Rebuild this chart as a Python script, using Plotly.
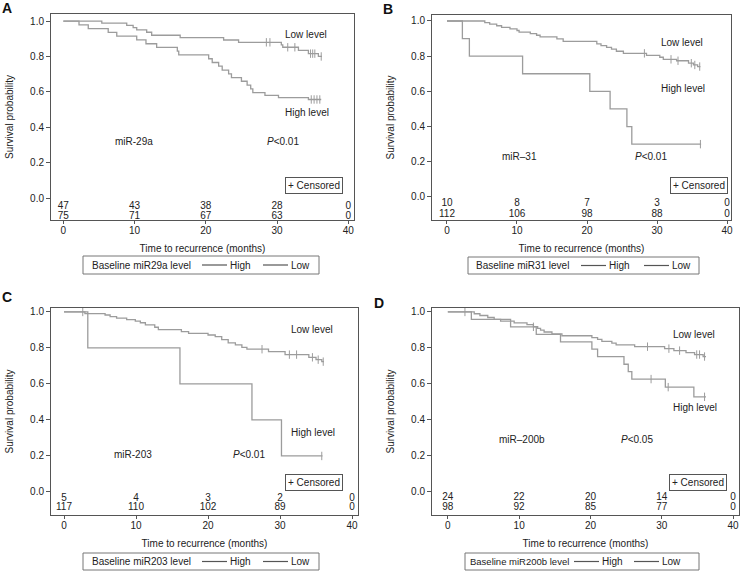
import plotly.graph_objects as go

# ---------------- data ----------------
tick_months = [0, 10, 20, 30, 40]
ytick_vals = [0.0, 0.2, 0.4, 0.6, 0.8, 1.0]

# Panel A: miR-29a
A_high_t = [0, 2.2, 3.5, 6.3, 7.5, 10.3, 11.6, 13.1, 16.0, 16.2, 20.4, 20.9, 21.8, 22.3, 23.2, 23.6, 25.0, 25.8, 26.3, 26.6, 28.3, 30.2, 34.4]
A_high_s = [1.0, .979, .957, .936, .915, .894, .872, .851, .830, .809, .787, .766, .745, .723, .702, .681, .660, .638, .617, .596, .580, .568, .557]
A_high_end = 36.2
A_high_cens = [34.8, 35.2, 35.6, 36.0]
A_low_t = [0, 5.4, 8.9, 9.8, 10.3, 11.7, 12.4, 16.4, 22.5, 24.6, 30.6, 30.8, 33.0, 34.4, 35.8]
A_low_s = [1.0, .988, .976, .963, .950, .937, .920, .907, .893, .880, .866, .852, .834, .816, .800]
A_low_end = 36.3
A_low_cens = [28.5, 29.0, 31.5, 32.5, 34.7, 35.0, 35.3, 36.2]
A_risk_high = [47, 43, 38, 28, 0]
A_risk_low = [75, 71, 67, 63, 0]

# Panel B: miR-31
B_high_t = [0, 2.2, 3.2, 10.8, 20.4, 23.3, 25.7, 26.4]
B_high_s = [1.0, 0.9, 0.8, 0.7, 0.6, 0.5, 0.4, 0.3]
B_high_end = 36.3
B_high_cens = [36.2]
B_low_t = [0, 5.4, 6.1, 7.1, 7.8, 9.0, 10.0, 10.3, 11.9, 12.8, 13.3, 15.7, 16.6, 21.4, 22.0, 22.8, 23.5, 24.2, 25.2, 28.5, 30.4, 30.9, 32.8, 34.5, 35.2, 35.8]
B_low_s = [1.0, .991, .982, .973, .964, .955, .946, .937, .928, .919, .910, .898, .884, .870, .860, .850, .840, .828, .816, .805, .794, .782, .774, .760, .750, .741]
B_low_end = 36.2
B_low_cens = [28.2, 32.0, 33.0, 34.9, 35.4, 36.1]
B_risk_high = [10, 8, 7, 3, 0]
B_risk_low = [112, 106, 98, 88, 0]

# Panel C: miR-203
C_high_t = [0, 3.3, 16.1, 26.1, 30.2]
C_high_s = [1.0, 0.8, 0.6, 0.4, 0.2]
C_high_end = 35.9
C_high_cens = [35.8]
C_low_t = [0, 2.9, 5.7, 6.4, 7.3, 8.7, 9.9, 10.6, 11.3, 12.6, 13.1, 16.3, 17.3, 20.0, 21.0, 21.9, 22.8, 23.8, 24.7, 25.4, 28.4, 30.7, 34.0, 35.0, 35.8]
C_low_s = [1.0, .991, .983, .974, .966, .957, .949, .940, .928, .915, .902, .891, .881, .872, .863, .846, .828, .817, .803, .793, .780, .763, .748, .735, .724]
C_low_end = 36.1
C_low_cens = [2.6, 27.5, 31.3, 32.3, 34.5, 35.3, 36.0]
C_risk_high = [5, 4, 3, 2, 0]
C_risk_low = [117, 110, 102, 89, 0]

# Panel D: miR-200b
D_high_t = [0, 3.3, 8.8, 12.4, 15.8, 20.2, 21.0, 24.7, 25.3, 25.8, 30.5, 34.5]
D_high_s = [1.0, .958, .917, .875, .833, .792, .750, .708, .667, .625, .580, .526]
D_high_end = 36.2
D_high_cens = [12.0, 28.5, 30.9, 36.0]
D_low_t = [0, 3.7, 4.5, 5.6, 6.5, 7.4, 9.3, 11.1, 12.0, 12.6, 13.0, 13.5, 14.6, 16.0, 20.2, 21.0, 21.6, 23.0, 23.6, 26.2, 30.4, 31.7, 33.4, 34.6, 35.8]
D_low_s = [1.0, .990, .980, .969, .959, .949, .939, .929, .918, .908, .898, .888, .878, .867, .857, .847, .836, .826, .816, .806, .795, .784, .773, .762, .751]
D_low_end = 36.2
D_low_cens = [2.4, 28.0, 31.0, 32.5, 34.9, 35.3, 36.0]
D_risk_high = [24, 22, 20, 14, 0]
D_risk_low = [98, 92, 85, 77, 0]

panel_letters = ["A", "B", "C", "D"]
mir_labels = ["miR-29a", "miR\u201331", "miR-203", "miR\u2013200b"]
p_labels = ["<i>P</i>&lt;0.01", "<i>P</i>&lt;0.01", "<i>P</i>&lt;0.01", "<i>P</i>&lt;0.05"]
legend_titles = ["Baseline miR29a level", "Baseline miR31 level", "Baseline miR203 level", "Baseline miR200b level"]
legend_names = ["High", "Low"]

# ---------------- layout geometry ----------------
W, H = 742, 572
boxes = [(51, 14, 354, 220), (432, 15, 731, 220), (51, 308, 358, 515), (432, 308, 739, 515)]
xranges = [[-1.73, 40.8], [-2.14, 40.57], [-1.81, 40.83], [-2.22, 40.83]]
yranges = [[-0.124, 1.04], [-0.131, 1.034], [-0.128, 1.022], [-0.134, 1.022]]
letter_pos = [(0, -2), (381, -1), (0, 287), (372, 293)]
# legend boxes: left, top, right, bottom (px); title x, first and second line-sample x
legend_boxes = [(83, 256, 319, 274), (468, 257, 699, 274), (83, 553, 319, 570), (465, 553, 699, 570)]
legend_title_x = [90, 474, 90, 468]
legend_title_size = [10, 10, 10, 9.5]
legend_seg_x = [(202, 263), (581, 644), (202, 263), (574, 634)]
lowlbl = [(30.8, 0.927), (30.3, 0.879), (31.2, 0.904), (31.25, 0.875)]
highlbl = [(30.8, 0.486), (30.3, 0.617), (31.2, 0.33), (31.25, 0.466)]
mirpos = [(9.9, 0.322), (10.3, 0.228), (9.6, 0.209), (10.4, 0.289)]
ppos = [(30.9, 0.322), (29.2, 0.228), (25.7, 0.209), (26.5, 0.289)]
cens_box = [(39.2, 0.07), (40.2, 0.064), (38.8, 0.055), (39.1, 0.05)]
risk_rows = [(-0.049, -0.107), (-0.038, -0.098), (-0.039, -0.089), (-0.035, -0.091)]
risk_lbl_x = [-3.37, -3.48, -3.1, -3.47]

panels = [
    (A_high_t, A_high_s, A_high_end, A_high_cens, A_low_t, A_low_s, A_low_end, A_low_cens, A_risk_high, A_risk_low),
    (B_high_t, B_high_s, B_high_end, B_high_cens, B_low_t, B_low_s, B_low_end, B_low_cens, B_risk_high, B_risk_low),
    (C_high_t, C_high_s, C_high_end, C_high_cens, C_low_t, C_low_s, C_low_end, C_low_cens, C_risk_high, C_risk_low),
    (D_high_t, D_high_s, D_high_end, D_high_cens, D_low_t, D_low_s, D_low_end, D_low_cens, D_risk_high, D_risk_low),
]

FONT = "Liberation Sans, Arial, sans-serif"
TXT = "#222222"
CURVE = "#9c9c9c"
BOX = "#555555"


def surv_at(ts, ss, time):
    val = ss[0]
    for t, s in zip(ts, ss):
        if t <= time:
            val = s
    return val


def px_x(v):
    return v / W


def px_y(v):
    return 1 - v / H


fig = go.Figure()
layout = dict(
    width=W, height=H, margin=dict(l=0, r=0, t=0, b=0, autoexpand=False),
    paper_bgcolor="white", plot_bgcolor="white", showlegend=False,
    font=dict(family=FONT, size=10, color=TXT),
)
annotations = []
shapes = []

for i, (ht, hs, hend, hc, lt, ls, lend, lc, rh, rl) in enumerate(panels):
    n = i + 1
    xa = "x" if n == 1 else f"x{n}"
    ya = "y" if n == 1 else f"y{n}"
    x0, y0, x1, y1 = boxes[i]
    layout["xaxis" if n == 1 else f"xaxis{n}"] = dict(
        domain=[x0 / W, x1 / W], range=xranges[i], anchor=ya, automargin=False,
        showgrid=False, zeroline=False, showline=True, mirror=True,
        linecolor=BOX, linewidth=1, ticks="outside", ticklen=3, tickcolor=BOX,
        tickvals=tick_months, tickfont=dict(size=10, color=TXT), ticklabelstandoff=-2,
        title=dict(text="Time to recurrence (months)", font=dict(size=10, color=TXT), standoff=9),
    )
    layout["yaxis" if n == 1 else f"yaxis{n}"] = dict(
        domain=[1 - y1 / H, 1 - y0 / H], range=yranges[i], anchor=xa, automargin=False,
        showgrid=False, zeroline=False, showline=True, mirror=True,
        linecolor=BOX, linewidth=1, ticks="outside", ticklen=4, tickcolor=BOX,
        tickvals=ytick_vals, tickformat=".1f", tickfont=dict(size=10, color=TXT),
        title=dict(text="Survival probability", font=dict(size=10, color=TXT), standoff=14),
    )

    for name, ts, ss, end, cens in (("High", ht, hs, hend, hc), ("Low", lt, ls, lend, lc)):
        fig.add_trace(go.Scatter(
            x=list(ts) + [end], y=list(ss) + [ss[-1]], mode="lines",
            line=dict(color=CURVE, width=1.3, shape="hv"), name=name,
            xaxis=xa, yaxis=ya, hoverinfo="skip",
        ))
        fig.add_trace(go.Scatter(
            x=cens, y=[surv_at(ts, ss, c) for c in cens], mode="markers",
            marker=dict(symbol="line-ns-open", size=6, color=CURVE, line=dict(color=CURVE, width=1)),
            xaxis=xa, yaxis=ya, hoverinfo="skip", name=name + " censored",
        ))

    # number at risk rows
    yh, yl = risk_rows[i]
    for vals, yy in ((rh, yh), (rl, yl)):
        fig.add_trace(go.Scatter(
            x=tick_months, y=[yy] * len(tick_months), mode="text", text=[str(v) for v in vals],
            textfont=dict(size=10, color=TXT), xaxis=xa, yaxis=ya,
            cliponaxis=False, hoverinfo="skip",
        ))
    for lab, yy in (("High", yh), ("Low", yl)):
        annotations.append(dict(text=lab, x=risk_lbl_x[i], y=yy, xref=xa, yref=ya,
                                xanchor="right", yanchor="middle", showarrow=False,
                                font=dict(size=10, color=TXT)))

    annotations.append(dict(text="Low level", x=lowlbl[i][0], y=lowlbl[i][1], xref=xa, yref=ya,
                            xanchor="left", yanchor="middle", showarrow=False, font=dict(size=10)))
    annotations.append(dict(text="High level", x=highlbl[i][0], y=highlbl[i][1], xref=xa, yref=ya,
                            xanchor="left", yanchor="middle", showarrow=False, font=dict(size=10)))
    annotations.append(dict(text=mir_labels[i], x=mirpos[i][0], y=mirpos[i][1], xref=xa, yref=ya,
                            xanchor="center", yanchor="middle", showarrow=False, font=dict(size=10)))
    annotations.append(dict(text=p_labels[i], x=ppos[i][0], y=ppos[i][1], xref=xa, yref=ya,
                            xanchor="center", yanchor="middle", showarrow=False, font=dict(size=10)))
    annotations.append(dict(text="+ Censored", x=cens_box[i][0], y=cens_box[i][1], xref=xa, yref=ya,
                            xanchor="right", yanchor="middle", showarrow=False, font=dict(size=10),
                            bordercolor="#555555", borderwidth=1, borderpad=2, bgcolor="white"))
    px, py = letter_pos[i]
    annotations.append(dict(text="<b>" + panel_letters[i] + "</b>", x=px_x(px), y=px_y(py),
                            xref="paper", yref="paper", xanchor="left", yanchor="top",
                            showarrow=False, font=dict(size=14, color="#111111")))

    # legend box (drawn by hand so title and items sit on one row)
    bl, bt, br, bb = legend_boxes[i]
    cy = (bt + bb) / 2
    shapes.append(dict(type="rect", xref="paper", yref="paper", x0=px_x(bl), x1=px_x(br),
                       y0=px_y(bb), y1=px_y(bt), line=dict(color="#777777", width=1)))
    annotations.append(dict(text=legend_titles[i], x=px_x(legend_title_x[i]), y=px_y(cy),
                            xref="paper", yref="paper", xanchor="left", yanchor="middle",
                            showarrow=False, font=dict(size=legend_title_size[i])))
    for nm, sx in zip(legend_names, legend_seg_x[i]):
        shapes.append(dict(type="line", xref="paper", yref="paper", x0=px_x(sx), x1=px_x(sx + 25),
                           y0=px_y(cy), y1=px_y(cy), line=dict(color="#555555", width=1.2)))
        annotations.append(dict(text=nm, x=px_x(sx + 26), y=px_y(cy), xref="paper", yref="paper",
                                xanchor="left", yanchor="middle", showarrow=False, font=dict(size=10)))

layout["annotations"] = annotations
layout["shapes"] = shapes
fig.update_layout(**layout)
fig.write_html(
    "out.html",
    config={"displayModeBar": False},
    post_script="document.body.style.margin='0';document.body.style.overflow='hidden';",
)
